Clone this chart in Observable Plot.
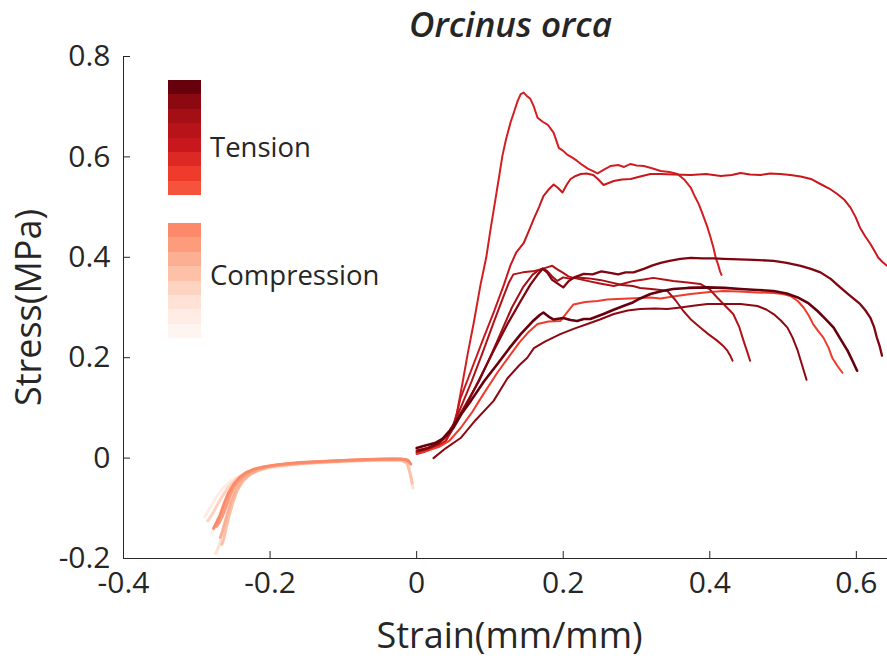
<!DOCTYPE html>
<html><head><meta charset="utf-8">
<script src="https://cdn.jsdelivr.net/npm/d3@7"></script>
<script src="https://cdn.jsdelivr.net/npm/@observablehq/plot@0.6"></script>
<style>
body{margin:0;background:#fff;}
#wrap{position:relative;width:887px;height:660px;font-family:"Open Sans","Noto Sans",sans-serif;}
.leg{position:absolute;left:168px;width:33px;}
.sw{height:14.4px;}
.lab{position:absolute;left:210px;font-size:27.5px;color:#262626;line-height:1;white-space:nowrap;}
</style></head><body><div id="wrap"></div>
<script>
// ---- axes ----
const xTicks = [-0.4, -0.2, 0, 0.2, 0.4, 0.6];
const xTickLabels = ["-0.4", "-0.2", "0", "0.2", "0.4", "0.6"];
const yTicks = [-0.2, 0, 0.2, 0.4, 0.6, 0.8];
const yTickLabels = ["-0.2", "0", "0.2", "0.4", "0.6", "0.8"];
const xDomain = [-0.4, 0.6425];
const yDomain = [-0.2, 0.8];
const titleText = "Orcinus orca";
const xLabel = "Strain(mm/mm)";
const yLabel = "Stress(MPa)";
const legendLabels = ["Tension", "Compression"];

// ---- legend colours ----
const tensionColors = ["#67000d", "#8c0912", "#a30f15", "#b61419", "#c9181d", "#dc2924", "#ef3b2c", "#f5533b"];
const compressionColors = ["#fc8a6a", "#fc9c7d", "#fcaf93", "#fdc1a8", "#fdd3c1", "#fee2d5", "#ffede5", "#fff5f0"];

// ---- tension curves [strain, stress] ----
const tensA = [[0.000,0.008],[0.010,0.012],[0.020,0.018],[0.030,0.025],[0.040,0.035],[0.048,0.055],[0.055,0.09],[0.063,0.153],[0.070,0.21],[0.078,0.27],[0.087,0.344],[0.095,0.40],[0.101,0.457],[0.108,0.52],[0.113,0.565],[0.117,0.602],[0.122,0.635],[0.128,0.668],[0.133,0.69],[0.138,0.712],[0.142,0.725],[0.146,0.728],[0.150,0.722],[0.155,0.716],[0.160,0.700],[0.165,0.678],[0.172,0.670],[0.179,0.664],[0.187,0.648],[0.194,0.618],[0.200,0.612],[0.206,0.604],[0.213,0.598],[0.219,0.592],[0.226,0.584],[0.233,0.577],[0.240,0.572],[0.247,0.567],[0.255,0.574],[0.265,0.582],[0.275,0.584],[0.283,0.580],[0.292,0.586],[0.300,0.583],[0.310,0.582],[0.320,0.578],[0.333,0.572],[0.345,0.570],[0.356,0.566],[0.365,0.555],[0.374,0.539],[0.380,0.520],[0.385,0.506],[0.391,0.483],[0.397,0.459],[0.401,0.440],[0.405,0.419],[0.408,0.400],[0.411,0.387],[0.414,0.372],[0.416,0.365]];
const tensB = [[0.000,0.012],[0.012,0.016],[0.025,0.022],[0.038,0.030],[0.050,0.060],[0.060,0.120],[0.074,0.173],[0.091,0.238],[0.105,0.290],[0.119,0.345],[0.128,0.384],[0.136,0.410],[0.146,0.428],[0.153,0.452],[0.160,0.477],[0.167,0.500],[0.173,0.522],[0.180,0.535],[0.187,0.545],[0.193,0.538],[0.199,0.529],[0.205,0.545],[0.210,0.556],[0.217,0.562],[0.224,0.566],[0.232,0.567],[0.241,0.564],[0.248,0.555],[0.255,0.544],[0.262,0.548],[0.269,0.552],[0.280,0.555],[0.292,0.556],[0.305,0.561],[0.319,0.566],[0.333,0.566],[0.350,0.565],[0.374,0.564],[0.395,0.566],[0.415,0.562],[0.430,0.564],[0.442,0.568],[0.455,0.565],[0.469,0.564],[0.482,0.567],[0.496,0.566],[0.510,0.564],[0.524,0.561],[0.538,0.556],[0.551,0.546],[0.563,0.537],[0.574,0.526],[0.584,0.514],[0.592,0.499],[0.599,0.480],[0.605,0.459],[0.612,0.442],[0.619,0.427],[0.625,0.412],[0.630,0.399],[0.636,0.390],[0.642,0.383]];
const tensC = [[0.002,0.015],[0.015,0.020],[0.030,0.030],[0.045,0.055],[0.064,0.095],[0.085,0.155],[0.105,0.214],[0.125,0.270],[0.142,0.313],[0.155,0.345],[0.165,0.365],[0.172,0.377],[0.178,0.370],[0.185,0.355],[0.192,0.348],[0.200,0.340],[0.207,0.352],[0.215,0.360],[0.228,0.367],[0.240,0.366],[0.252,0.372],[0.264,0.369],[0.275,0.366],[0.285,0.370],[0.296,0.370],[0.310,0.377],[0.322,0.384],[0.333,0.389],[0.345,0.393],[0.360,0.397],[0.374,0.399],[0.390,0.398],[0.405,0.398],[0.419,0.397],[0.440,0.396],[0.460,0.395],[0.487,0.393],[0.505,0.389],[0.524,0.383],[0.538,0.377],[0.551,0.370],[0.565,0.357],[0.578,0.340],[0.590,0.325],[0.605,0.307],[0.612,0.295],[0.619,0.280],[0.624,0.262],[0.628,0.240],[0.632,0.222],[0.635,0.204]];
const tensD = [[0.000,0.020],[0.012,0.025],[0.025,0.030],[0.037,0.040],[0.050,0.060],[0.062,0.090],[0.074,0.114],[0.092,0.153],[0.110,0.187],[0.126,0.218],[0.142,0.247],[0.158,0.272],[0.168,0.285],[0.173,0.290],[0.180,0.282],[0.187,0.276],[0.200,0.279],[0.210,0.275],[0.219,0.273],[0.228,0.277],[0.237,0.277],[0.246,0.282],[0.255,0.287],[0.268,0.295],[0.282,0.303],[0.295,0.310],[0.305,0.318],[0.319,0.327],[0.335,0.333],[0.350,0.337],[0.370,0.339],[0.397,0.340],[0.420,0.339],[0.442,0.337],[0.465,0.335],[0.487,0.333],[0.505,0.328],[0.520,0.320],[0.535,0.308],[0.547,0.293],[0.558,0.277],[0.569,0.260],[0.578,0.238],[0.588,0.214],[0.595,0.193],[0.601,0.174]];
const tensE = [[0.000,0.010],[0.015,0.015],[0.030,0.022],[0.045,0.035],[0.060,0.060],[0.075,0.090],[0.090,0.125],[0.110,0.170],[0.125,0.200],[0.140,0.230],[0.152,0.250],[0.165,0.267],[0.180,0.272],[0.196,0.273],[0.205,0.290],[0.214,0.306],[0.230,0.311],[0.247,0.313],[0.260,0.316],[0.274,0.317],[0.290,0.318],[0.305,0.319],[0.319,0.320],[0.333,0.318],[0.350,0.322],[0.374,0.327],[0.400,0.331],[0.419,0.333],[0.440,0.332],[0.465,0.330],[0.487,0.329],[0.500,0.327],[0.510,0.323],[0.520,0.313],[0.528,0.300],[0.535,0.284],[0.541,0.267],[0.548,0.253],[0.555,0.240],[0.562,0.220],[0.567,0.200],[0.574,0.184],[0.581,0.170]];
const tensF = [[0.023,0.000],[0.040,0.020],[0.060,0.040],[0.080,0.075],[0.105,0.114],[0.124,0.159],[0.140,0.185],[0.151,0.200],[0.160,0.219],[0.175,0.232],[0.196,0.247],[0.215,0.258],[0.233,0.267],[0.250,0.276],[0.269,0.287],[0.288,0.294],[0.305,0.297],[0.325,0.298],[0.342,0.297],[0.360,0.300],[0.380,0.304],[0.397,0.307],[0.420,0.307],[0.442,0.307],[0.465,0.303],[0.477,0.296],[0.487,0.287],[0.497,0.274],[0.506,0.260],[0.513,0.240],[0.520,0.214],[0.526,0.185],[0.532,0.156]];
const tensG = [[0.000,0.012],[0.015,0.018],[0.030,0.028],[0.045,0.050],[0.060,0.100],[0.075,0.153],[0.090,0.210],[0.105,0.270],[0.118,0.320],[0.126,0.350],[0.132,0.366],[0.145,0.370],[0.158,0.372],[0.169,0.376],[0.178,0.380],[0.185,0.383],[0.192,0.376],[0.200,0.369],[0.207,0.362],[0.214,0.359],[0.233,0.353],[0.250,0.348],[0.269,0.343],[0.283,0.348],[0.296,0.353],[0.310,0.356],[0.323,0.359],[0.337,0.356],[0.350,0.353],[0.370,0.350],[0.387,0.347],[0.400,0.336],[0.410,0.320],[0.420,0.305],[0.432,0.287],[0.440,0.262],[0.446,0.234],[0.451,0.212],[0.455,0.194]];
const tensH = [[0.000,0.015],[0.015,0.020],[0.030,0.030],[0.045,0.050],[0.060,0.090],[0.085,0.153],[0.100,0.200],[0.115,0.250],[0.130,0.300],[0.145,0.340],[0.158,0.365],[0.165,0.373],[0.172,0.378],[0.178,0.373],[0.185,0.362],[0.192,0.353],[0.200,0.360],[0.210,0.357],[0.220,0.360],[0.235,0.358],[0.250,0.355],[0.265,0.350],[0.280,0.345],[0.295,0.343],[0.305,0.339],[0.320,0.337],[0.333,0.335],[0.342,0.333],[0.353,0.315],[0.364,0.293],[0.375,0.275],[0.387,0.260],[0.398,0.247],[0.410,0.234],[0.418,0.224],[0.424,0.214],[0.428,0.204],[0.431,0.194]];

// ---- compression curves [strain, stress] ----
const compA = [[-0.008,-0.012],[-0.012,-0.004],[-0.02,-0.002],[-0.04,-0.002],[-0.07,-0.003],[-0.1,-0.005],[-0.13,-0.007],[-0.16,-0.009],[-0.19,-0.013],[-0.208,-0.017],[-0.222,-0.022],[-0.233,-0.029],[-0.242,-0.039],[-0.25,-0.053],[-0.257,-0.07],[-0.263,-0.092],[-0.268,-0.113],[-0.273,-0.128],[-0.277,-0.14]];
const compB = [[-0.01,-0.008],[-0.015,-0.003],[-0.03,-0.002],[-0.06,-0.003],[-0.1,-0.005],[-0.14,-0.008],[-0.18,-0.012],[-0.205,-0.017],[-0.22,-0.023],[-0.232,-0.031],[-0.241,-0.042],[-0.249,-0.057],[-0.255,-0.076],[-0.26,-0.097],[-0.265,-0.115],[-0.27,-0.13],[-0.273,-0.136]];
const compC = [[-0.011,-0.006],[-0.02,-0.003],[-0.05,-0.003],[-0.09,-0.005],[-0.13,-0.008],[-0.17,-0.012],[-0.2,-0.017],[-0.217,-0.024],[-0.229,-0.033],[-0.238,-0.045],[-0.246,-0.062],[-0.252,-0.083],[-0.257,-0.106],[-0.261,-0.126],[-0.265,-0.146],[-0.268,-0.158]];
const compD = [[-0.006,-0.05],[-0.009,-0.03],[-0.013,-0.01],[-0.02,-0.004],[-0.05,-0.004],[-0.1,-0.006],[-0.15,-0.01],[-0.19,-0.015],[-0.213,-0.022],[-0.227,-0.032],[-0.237,-0.046],[-0.245,-0.065],[-0.251,-0.09],[-0.256,-0.115],[-0.26,-0.14],[-0.263,-0.16],[-0.266,-0.172]];
const compE = [[-0.012,-0.005],[-0.03,-0.003],[-0.07,-0.004],[-0.12,-0.007],[-0.17,-0.011],[-0.2,-0.016],[-0.22,-0.022],[-0.235,-0.031],[-0.248,-0.044],[-0.258,-0.06],[-0.266,-0.078],[-0.273,-0.096],[-0.279,-0.112],[-0.285,-0.125]];
const compF = [[-0.005,-0.06],[-0.008,-0.035],[-0.012,-0.012],[-0.02,-0.005],[-0.06,-0.005],[-0.11,-0.008],[-0.16,-0.012],[-0.2,-0.019],[-0.222,-0.028],[-0.236,-0.042],[-0.246,-0.062],[-0.254,-0.088],[-0.26,-0.118],[-0.265,-0.148],[-0.269,-0.172],[-0.274,-0.19]];
const compG = [[-0.012,-0.004],[-0.04,-0.003],[-0.09,-0.005],[-0.14,-0.008],[-0.185,-0.013],[-0.212,-0.02],[-0.232,-0.029],[-0.25,-0.042],[-0.263,-0.058],[-0.273,-0.077],[-0.281,-0.097],[-0.289,-0.117]];
const compH = [[-0.012,-0.004],[-0.05,-0.004],[-0.1,-0.006],[-0.15,-0.01],[-0.195,-0.016],[-0.22,-0.025],[-0.238,-0.038],[-0.252,-0.058],[-0.262,-0.085],[-0.27,-0.115],[-0.276,-0.14],[-0.28,-0.152]];

// series -> colour (drawing order: light to dark for compression; tension after)
const compressionSeries = [compH, compG, compF, compE, compD, compC, compB, compA];
const compressionSeriesColors = ["#fff5f0", "#ffede5", "#fee2d5", "#fdd3c1", "#fdc1a8", "#fcaf93", "#fc9c7d", "#fc8a6a"];
const tensionSeries = [tensA, tensB, tensE, tensG, tensH, tensF, tensC, tensD];
const tensionSeriesColors = ["#d31e22", "#c9181d", "#ef3b2c", "#b01217", "#a30f15", "#8c0912", "#7f0511", "#67000d"];
const tensionSeriesWidths = [2, 2, 2, 2, 2, 2, 2.3, 2.6];

const ink = "#262626";
const W = 887, H = 660, mL = 123, mR = 0, mT = 56, mB = 102;
const plotW = W - mL - mR, plotH = H - mT - mB;

const marks = [];
compressionSeries.forEach((s, i) => marks.push(Plot.line(s, {x: d => d[0], y: d => d[1], stroke: compressionSeriesColors[i], strokeWidth: 3})));
tensionSeries.forEach((s, i) => marks.push(Plot.line(s, {x: d => d[0], y: d => d[1], stroke: tensionSeriesColors[i], strokeWidth: tensionSeriesWidths[i]})));
marks.push(
  Plot.ruleX([xDomain[0]], {stroke: ink, strokeWidth: 1}),
  Plot.ruleY([yDomain[0]], {stroke: ink, strokeWidth: 1}),
  Plot.tickX(xTicks, {x: d => d, insetTop: plotH - 7, stroke: ink}),
  Plot.tickY(yTicks, {y: d => d, insetRight: plotW - 7, stroke: ink}),
  Plot.axisX({ticks: xTicks, tickFormat: d => xTickLabels[xTicks.indexOf(d)], tickSize: 0, tickPadding: 13, fontSize: 30, label: null}),
  Plot.axisY({ticks: yTicks, tickFormat: d => yTickLabels[yTicks.indexOf(d)], tickSize: 0, tickPadding: 13, fontSize: 30, label: null}),
  Plot.text([xLabel], {text: d => d, frameAnchor: "bottom", textAnchor: "middle", lineAnchor: "middle", dx: 4, dy: 78, fontSize: 36}),
  Plot.text([yLabel], {text: d => d, frameAnchor: "left", textAnchor: "middle", lineAnchor: "middle", dx: -94, rotate: -90, fontSize: 36}),
  Plot.text([titleText], {text: d => d, frameAnchor: "top", textAnchor: "middle", lineAnchor: "middle", dx: 5, dy: -31, fontSize: 35, fontWeight: 600, fontStyle: "italic"})
);

const chart = Plot.plot({
  width: W, height: H,
  marginLeft: mL, marginRight: mR, marginTop: mT, marginBottom: mB,
  x: {domain: xDomain},
  y: {domain: yDomain},
  style: {fontFamily: '"Open Sans","Noto Sans",sans-serif', color: ink, background: "#fff", overflow: "visible"},
  marks
});
const wrap = document.getElementById("wrap");
wrap.appendChild(chart);

// legend overlay
function addLegend(colors, top, label, labelTop) {
  const box = document.createElement("div");
  box.className = "leg";
  box.style.top = top + "px";
  colors.forEach(c => { const s = document.createElement("div"); s.className = "sw"; s.style.background = c; box.appendChild(s); });
  wrap.appendChild(box);
  const l = document.createElement("div");
  l.className = "lab"; l.textContent = label; l.style.top = labelTop + "px";
  wrap.appendChild(l);
}
addLegend(tensionColors, 80, legendLabels[0], 133);
addLegend(compressionColors, 223, legendLabels[1], 261);
</script></body></html>
